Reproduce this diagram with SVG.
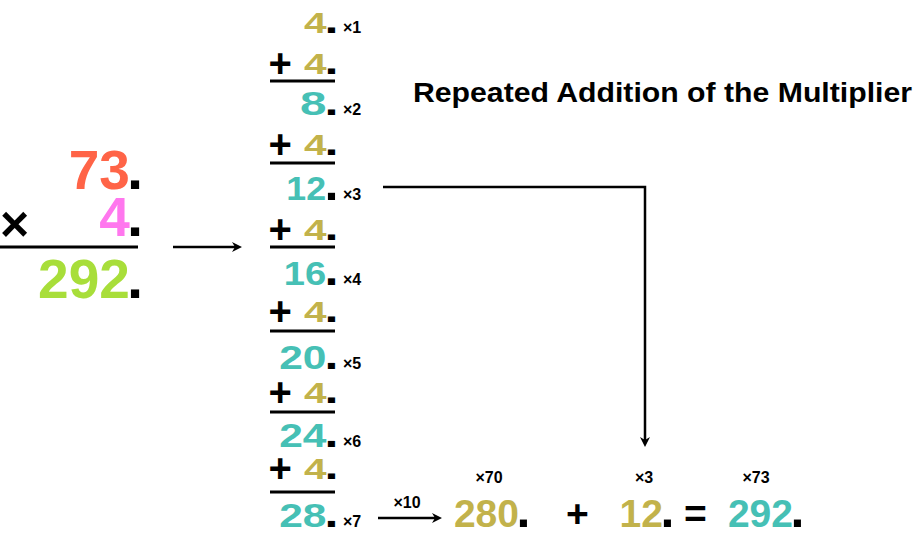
<svg xmlns="http://www.w3.org/2000/svg" width="914" height="539" viewBox="0 0 914 539">
<defs>
<marker id="ah" viewBox="0 0 10 10" refX="6" refY="5" markerWidth="10" markerHeight="10" markerUnits="userSpaceOnUse" orient="auto">
<path d="M0,0 L10,5 L0,10 L3,5 z" fill="#000"/>
</marker>
<style>
text{font-family:"Liberation Sans",Arial,sans-serif;font-weight:bold}
.dot{fill:#000}
.gold{fill:#C2B24B}
.teal{fill:#46C0B5}
.g4{font-size:29px}
.sum{font-size:34px}
.plus{font-size:40px;fill:#000}
.lbl{font-size:16px;fill:#000}
.rule{stroke:#000;stroke-width:3;fill:none}
.conn{stroke:#000;stroke-width:2.5;fill:none;marker-end:url(#ah)}
.big{font-size:55px}
.row{font-size:39px}
.bd{font-size:58px;fill:#000}
.rd{font-size:50px;fill:#000}
</style>
</defs>
<rect width="914" height="539" fill="#fff"/>

<g id="title"><text x="413" y="102" font-size="28" textLength="499" lengthAdjust="spacingAndGlyphs">Repeated Addition of the Multiplier</text></g>

<g id="multiplication">
<text class="big" x="143" y="189" text-anchor="end" fill="#FF6447">73<tspan class="bd" dx="-3">.</tspan></text>
<text x="0" y="241" font-size="50">×</text>
<text class="big" x="143" y="236" text-anchor="end" fill="#FF77EE">4<tspan class="bd" dx="-3">.</tspan></text>
<line class="rule" x1="0" y1="247" x2="138" y2="247"/>
<text class="big" x="143" y="298" text-anchor="end" fill="#A8DE3A">292<tspan class="bd" dx="-3">.</tspan></text>
</g>

<g id="column">
<g id="c4">
<text class="gold g4" transform="translate(338.5,33) scale(1.4,1)" text-anchor="end">4<tspan class="dot" font-size="36" dx="-1.5">.</tspan></text>
<text class="lbl" x="343" y="33">×1</text>
</g>
<g id="p1">
<text class="plus" x="268.5" y="77">+</text>
<text class="gold g4" transform="translate(338.5,74) scale(1.4,1)" text-anchor="end">4<tspan class="dot" font-size="36" dx="-1.5">.</tspan></text>
<line class="rule" x1="270" y1="81" x2="335" y2="81"/>
</g>
<g id="c8">
<text class="teal sum" transform="translate(338.5,115) scale(1.4,1)" text-anchor="end">8<tspan class="dot" font-size="36" dx="-1.5">.</tspan></text>
<text class="lbl" x="343" y="115">×2</text>
</g>
<g id="p2">
<text class="plus" x="268.5" y="158">+</text>
<text class="gold g4" transform="translate(338.5,155) scale(1.4,1)" text-anchor="end">4<tspan class="dot" font-size="36" dx="-1.5">.</tspan></text>
<line class="rule" x1="270" y1="163" x2="335" y2="163"/>
</g>
<g id="c12">
<text class="teal sum" transform="translate(338.5,200) scale(1.05,1)" text-anchor="end">12<tspan class="dot" font-size="48" dx="-1.5">.</tspan></text>
<text class="lbl" x="343" y="200">×3</text>
</g>
<g id="p3">
<text class="plus" x="268.5" y="243">+</text>
<text class="gold g4" transform="translate(338.5,240) scale(1.4,1)" text-anchor="end">4<tspan class="dot" font-size="36" dx="-1.5">.</tspan></text>
<line class="rule" x1="270" y1="247" x2="335" y2="247"/>
</g>
<g id="c16">
<text class="teal sum" transform="translate(338.5,285) scale(1.12,1)" text-anchor="end">16<tspan class="dot" font-size="45" dx="-1.5">.</tspan></text>
<text class="lbl" x="343" y="285">×4</text>
</g>
<g id="p4">
<text class="plus" x="268.5" y="325">+</text>
<text class="gold g4" transform="translate(338.5,322) scale(1.4,1)" text-anchor="end">4<tspan class="dot" font-size="36" dx="-1.5">.</tspan></text>
<line class="rule" x1="270" y1="331" x2="335" y2="331"/>
</g>
<g id="c20">
<text class="teal sum" transform="translate(338.5,369) scale(1.25,1)" text-anchor="end">20<tspan class="dot" font-size="40" dx="-1.5">.</tspan></text>
<text class="lbl" x="343" y="369">×5</text>
</g>
<g id="p5">
<text class="plus" x="268.5" y="406">+</text>
<text class="gold g4" transform="translate(338.5,403) scale(1.4,1)" text-anchor="end">4<tspan class="dot" font-size="36" dx="-1.5">.</tspan></text>
<line class="rule" x1="270" y1="412" x2="335" y2="412"/>
</g>
<g id="c24">
<text class="teal sum" transform="translate(338.5,447) scale(1.25,1)" text-anchor="end">24<tspan class="dot" font-size="40" dx="-1.5">.</tspan></text>
<text class="lbl" x="343" y="447">×6</text>
</g>
<g id="p6">
<text class="plus" x="268.5" y="482">+</text>
<text class="gold g4" transform="translate(338.5,479) scale(1.4,1)" text-anchor="end">4<tspan class="dot" font-size="36" dx="-1.5">.</tspan></text>
<line class="rule" x1="270" y1="492" x2="335" y2="492"/>
</g>
<g id="c28">
<text class="teal sum" transform="translate(338.5,527) scale(1.25,1)" text-anchor="end">28<tspan class="dot" font-size="40" dx="-1.5">.</tspan></text>
<text class="lbl" x="343" y="527">×7</text>
</g>
</g>

<g id="result">
<g id="r280">
<text class="lbl" x="489" y="483" text-anchor="middle">×70</text>
<text class="row gold" x="530.5" y="527" text-anchor="end">280<tspan class="rd" dx="-2.4">.</tspan></text>
</g>
<text class="row" x="566" y="527">+</text>
<g id="r12">
<text class="lbl" x="644" y="483" text-anchor="middle">×3</text>
<text class="row gold" x="674.5" y="527" text-anchor="end">12<tspan class="rd" dx="-2.4">.</tspan></text>
</g>
<text class="row" x="684" y="527">=</text>
<g id="r292">
<text class="lbl" x="756" y="483" text-anchor="middle">×73</text>
<text class="row teal" x="804.5" y="527" text-anchor="end">292<tspan class="rd" dx="-2.4">.</tspan></text>
</g>
</g>

<g id="connectors">
<line class="conn" x1="173" y1="247" x2="238" y2="247"/>
<line class="conn" x1="378" y1="518" x2="438" y2="518"/>
<text class="lbl" x="407" y="508" text-anchor="middle">×10</text>
<path class="conn" d="M383,187 H645 V443"/>
</g>
</svg>
